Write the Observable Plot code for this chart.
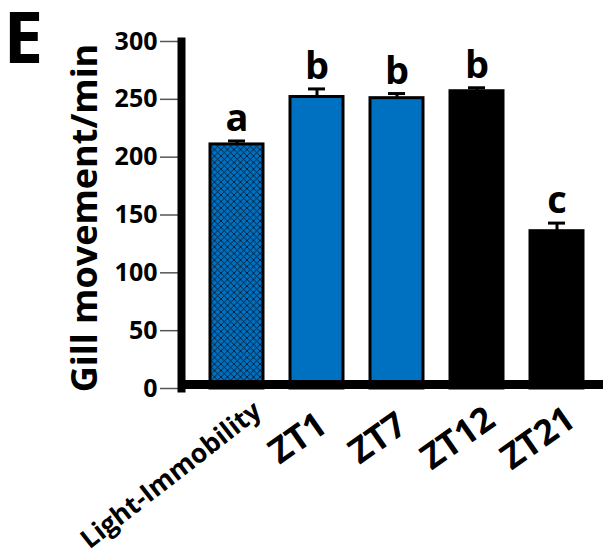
<!DOCTYPE html>
<html>
<head>
<meta charset="utf-8">
<script src="https://cdn.jsdelivr.net/npm/d3@7"></script>
<script src="https://cdn.jsdelivr.net/npm/@observablehq/plot@0.6"></script>
<style>
  html, body { margin: 0; padding: 0; background: #fff; }
  #chart { width: 614px; height: 559px; }
</style>
</head>
<body>
<div id="chart"></div>
<script>
const categories = ["Light-Immobility", "ZT1", "ZT7", "ZT12", "ZT21"];
const means = [211, 252, 251, 257, 136];
const errors = [3, 7, 4, 3, 7];
const letters = ["a", "b", "b", "b", "c"];
const groups = ["light", "day", "day", "night", "night"];
const yTicks = [0, 50, 100, 150, 200, 250, 300];
const panelLabel = "E";
const yTitle = "Gill movement/min";

const data = categories.map((c, i) => ({
  cat: c, mean: means[i], err: errors[i], letter: letters[i], group: groups[i]
}));

const chart = Plot.plot({
  width: 614,
  height: 559,
  marginLeft: 181,
  marginRight: 11,
  marginTop: 41,
  marginBottom: 171,
  style: { fontFamily: "'Open Sans', sans-serif", color: "#000", background: "#fff", overflow: "visible" },
  x: { domain: categories, range: [181, 612], padding: 0.34, axis: null },
  y: { domain: [0, 300], axis: null },
  color: { domain: ["light", "day", "night"], range: ["url(#xhatch)", "#0070C0", "#000000"] },
  marks: [
    Plot.barY(data, { x: "cat", y: "mean", fill: "group", stroke: "#000", strokeWidth: 3 }),
    Plot.ruleX(data, { x: "cat", y1: "mean", y2: d => d.mean + d.err, stroke: "#000", strokeWidth: 3 }),
    Plot.tickY(data, { x: "cat", y: d => d.mean + d.err, stroke: "#000", strokeWidth: 3, insetLeft: 18, insetRight: 18 }),
    Plot.text(data, { x: "cat", y: d => d.mean + d.err, text: "letter", dy: -10, lineAnchor: "bottom", fontSize: 38, fontWeight: "bold", fill: "#000" }),
    Plot.axisY({ ticks: yTicks, tickSize: 21, tickPadding: 3, fontSize: 25, fontWeight: "bold", stroke: "#555", strokeWidth: 1.5, tickFormat: d => String(d), label: null }),
    Plot.frame({ anchor: "left", stroke: "#000", strokeWidth: 8 }),
    Plot.ruleY([0], { stroke: "#000", strokeWidth: 9, dy: -4 }),
    Plot.text(categories.slice(0, 1), { x: d => d, frameAnchor: "bottom", rotate: -38, textAnchor: "end", lineAnchor: "middle", dx: 21, dy: 19, fontSize: 26.5, fontWeight: "bold", fill: "#000" }),
    Plot.text(categories.slice(1), { x: d => d, frameAnchor: "bottom", rotate: -35, textAnchor: "middle", lineAnchor: "middle", dx: -19, dy: 50, fontSize: 35, fontWeight: "bold", fill: "#000" }),
    Plot.text([yTitle], { frameAnchor: "left", dx: -96, dy: 3, rotate: -90, textAnchor: "middle", lineAnchor: "middle", fontSize: 36, fontWeight: "bold", fill: "#000" }),
    Plot.text([panelLabel], { frameAnchor: "top-left", dx: -178, dy: -29, textAnchor: "start", lineAnchor: "top", fontSize: 71, fontWeight: "bold", fill: "#000" })
  ]
});

// crosshatch pattern for the Light-Immobility bar
const svg = d3.select(chart);
const defs = svg.insert("defs", ":first-child");
const pat = defs.append("pattern")
  .attr("id", "xhatch")
  .attr("patternUnits", "userSpaceOnUse")
  .attr("width", 6.5).attr("height", 6.5);
pat.append("rect").attr("width", 6.5).attr("height", 6.5).attr("fill", "#0070C0");
pat.append("path").attr("d", "M0,0L6.5,6.5M6.5,0L0,6.5").attr("stroke", "#0a1a30").attr("stroke-width", 0.9);

document.getElementById("chart").appendChild(chart);
</script>
</body>
</html>
